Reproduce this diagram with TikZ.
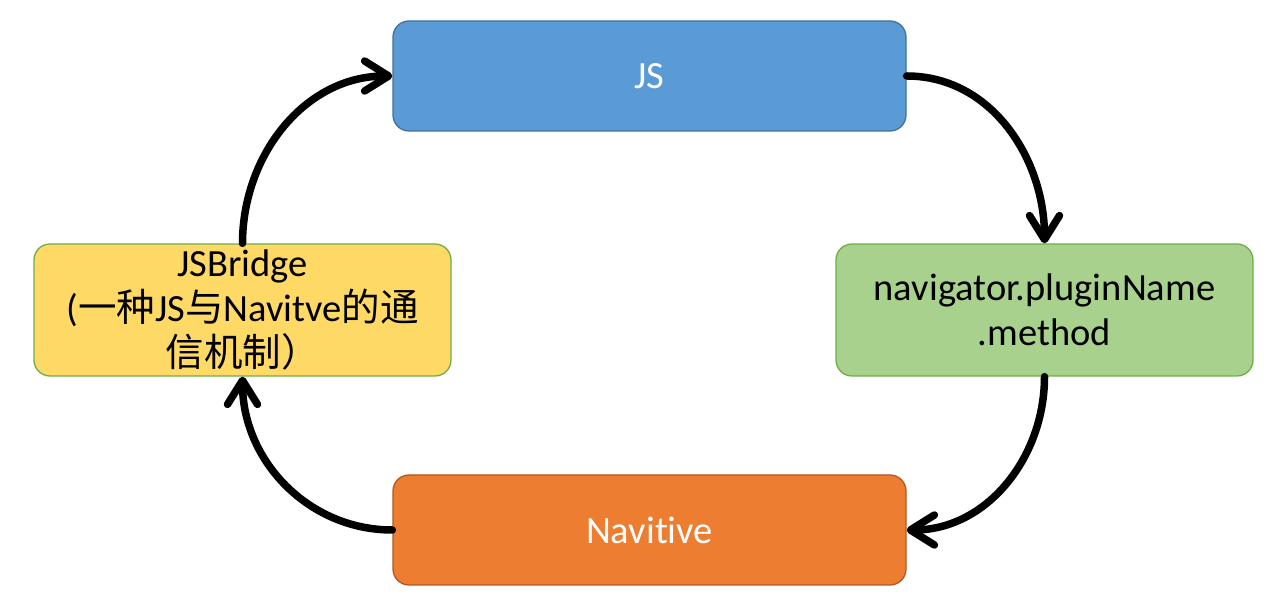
\documentclass[tikz,border=0pt]{standalone}
\usepackage{fontspec}
\setmainfont{Carlito}[Ligatures=NoCommon]
\newfontfamily\cjk{Noto Sans CJK SC}
\usetikzlibrary{arrows.meta}
\definecolor{jsfill}{HTML}{5B9BD5}
\definecolor{jsline}{HTML}{41719C}
\definecolor{gfill}{HTML}{A9D18E}
\definecolor{gline}{HTML}{70AD47}
\definecolor{ofill}{HTML}{ED7D31}
\definecolor{oline}{HTML}{AE5A21}
\definecolor{yfill}{HTML}{FFD966}
\begin{document}
\begin{tikzpicture}[x=1pt,y=1pt,
  box/.style={draw, line width=1.3pt, rounded corners=16pt, inner sep=0pt,
    align=center, font=\fontsize{38.5}{45}\selectfont},
  wide/.style={minimum width=513pt, minimum height=110pt},
  side/.style={minimum width=417pt, minimum height=132pt},
  conn/.style={line width=7.5pt, line cap=round,
    -{Straight Barb[length=24pt,width=30pt,line cap=round,line join=round]}}]
\useasboundingbox[fill=white] (0,0) rectangle (1282,612);
\node[box, wide, fill=jsfill, draw=jsline, text=white] (js) at (649.5,536) {JS};
\node[box, side, fill=gfill, draw=gline] (plugin) at (1044.5,302) {navigator.pluginName\\.method};
\node[box, wide, fill=ofill, draw=oline, text=white] (native) at (649.5,82) {Navitive};
\node[box, side, fill=yfill, draw=gline] (bridge) at (242.5,302)
  {JSBridge\\({\cjk 一种}JS{\cjk 与}Navitve{\cjk 的通}\\{\cjk 信机制）}};
\draw[conn] (js.east) to[out=0,in=90] (plugin.north);
\draw[conn] (plugin.south) to[out=-90,in=0] (native.east);
\draw[conn] (native.west) to[out=180,in=-90] (bridge.south);
\draw[conn] (bridge.north) to[out=90,in=180] (js.west);
\end{tikzpicture}
\end{document}
